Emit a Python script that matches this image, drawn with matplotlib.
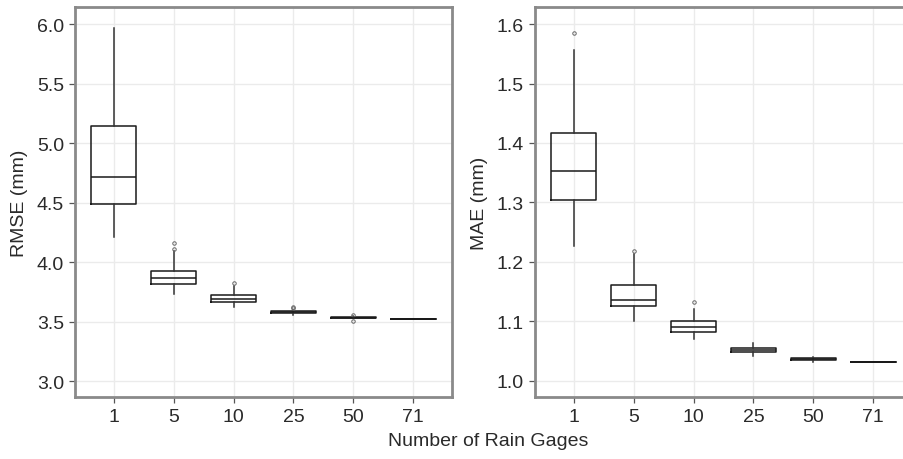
import matplotlib
matplotlib.use("Agg")
import matplotlib.pyplot as plt

plt.rcParams['font.family'] = ['Liberation Sans', 'DejaVu Sans']

categories = ["1", "5", "10", "25", "50", "71"]

# RMSE box statistics (mm)
rmse_whislo = [4.207, 3.728, 3.624, 3.555, 3.526, 3.521]
rmse_q1     = [4.485, 3.812, 3.666, 3.569, 3.530, 3.521]
rmse_med    = [4.717, 3.863, 3.689, 3.578, 3.534, 3.521]
rmse_q3     = [5.140, 3.927, 3.720, 3.585, 3.538, 3.521]
rmse_whishi = [5.970, 4.090, 3.800, 3.600, 3.545, 3.521]
rmse_fliers = [[], [4.163, 4.110], [3.821], [3.620, 3.615], [3.556, 3.504], []]

# MAE box statistics (mm)
mae_whislo = [1.227, 1.100, 1.071, 1.0425, 1.032, 1.0325]
mae_q1     = [1.304, 1.126, 1.082, 1.048, 1.0353, 1.0325]
mae_med    = [1.353, 1.136, 1.090, 1.052, 1.0365, 1.0325]
mae_q3     = [1.416, 1.161, 1.100, 1.0555, 1.038, 1.0325]
mae_whishi = [1.557, 1.213, 1.121, 1.063, 1.040, 1.0325]
mae_fliers = [[1.585], [1.218], [1.132], [], [], []]

rmse_ticks = [3.0, 3.5, 4.0, 4.5, 5.0, 5.5, 6.0]
mae_ticks = [1.0, 1.1, 1.2, 1.3, 1.4, 1.5, 1.6]


def make_stats(lo, q1, med, q3, hi, fl):
    return [dict(whislo=a, q1=b, med=c, q3=d, whishi=e, fliers=f, label=lab)
            for a, b, c, d, e, f, lab in zip(lo, q1, med, q3, hi, fl, categories)]


W, H = 904, 460
fig = plt.figure(figsize=(W / 100, H / 100), dpi=100)

ax1 = fig.add_axes([75 / W, 1 - 398 / H, (452 - 75) / W, (398 - 8) / H])
ax2 = fig.add_axes([535 / W, 1 - 398 / H, (912 - 535) / W, (398 - 8) / H])

text_col = '#2a2a2a'
border_col = '#8a8a8a'
grid_col = '#ebebeb'
fs = 14

panels = [
    (ax1, make_stats(rmse_whislo, rmse_q1, rmse_med, rmse_q3, rmse_whishi, rmse_fliers),
     (2.866, 6.143), rmse_ticks, "RMSE (mm)", "{:.1f}"),
    (ax2, make_stats(mae_whislo, mae_q1, mae_med, mae_q3, mae_whishi, mae_fliers),
     (0.973, 1.6286), mae_ticks, "MAE (mm)", "{:.1f}"),
]

for ax, stats, ylim, yticks, ylabel, fmt in panels:
    ax.set_axisbelow(True)
    ax.bxp(stats, positions=range(1, len(categories) + 1), widths=0.75,
           showcaps=False, patch_artist=False,
           boxprops=dict(color='#1a1a1a', linewidth=1.1),
           medianprops=dict(color='#1a1a1a', linewidth=1.1),
           whiskerprops=dict(color='#333333', linewidth=1.1),
           flierprops=dict(marker='o', markersize=2.5, markerfacecolor='none',
                           markeredgecolor='#666666', markeredgewidth=0.7))
    ax.set_xlim(0.35, 6.65)
    ax.set_ylim(*ylim)
    ax.set_yticks(yticks)
    ax.set_yticklabels([fmt.format(t) for t in yticks])
    ax.set_xticks(range(1, len(categories) + 1))
    ax.set_xticklabels(categories)
    ax.grid(True, color=grid_col, linewidth=1.0)
    for sp in ax.spines.values():
        sp.set_color(border_col)
        sp.set_linewidth(2.0)
    ax.tick_params(axis='both', direction='out', length=4, width=0.9,
                   color='#555555', labelsize=fs, labelcolor=text_col, pad=4)
    ax.set_ylabel(ylabel, fontsize=fs, color=text_col, labelpad=6)

fig.text(488 / W, 1 - 442 / H, "Number of Rain Gages", ha='center', va='center',
         fontsize=fs, color=text_col)

fig.savefig("out.png", dpi=100, facecolor='white')
